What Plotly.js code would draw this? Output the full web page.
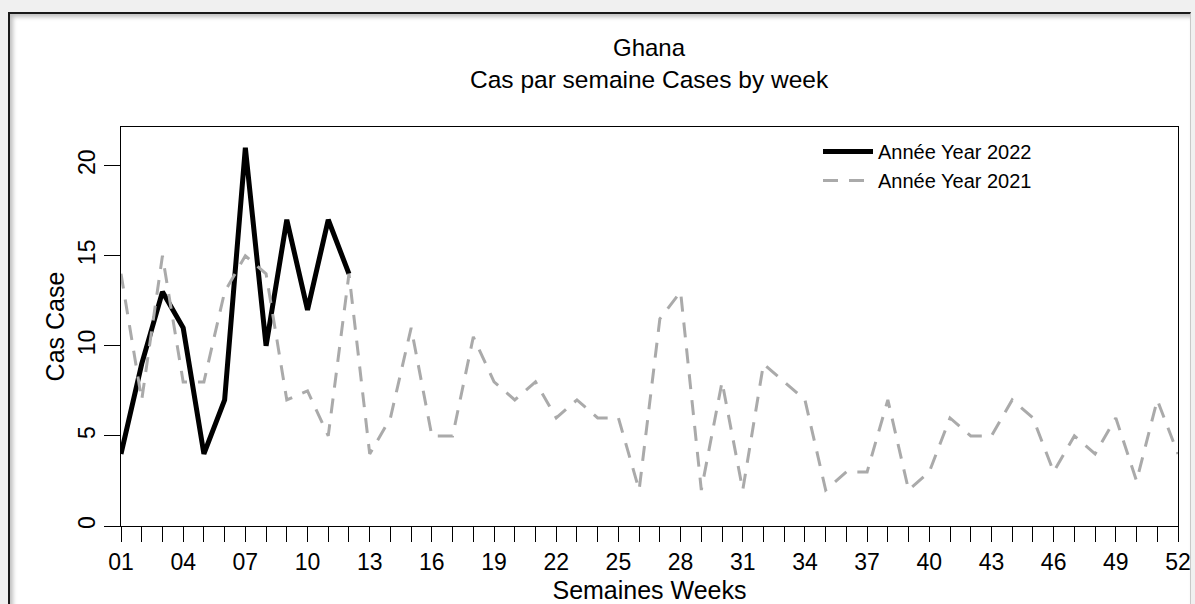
<!DOCTYPE html>
<html>
<head>
<meta charset="utf-8">
<script src="https://cdn.plot.ly/plotly-3.0.1.min.js"></script>
<style>
  html, body { margin:0; padding:0; background:#f0f0f0; width:1195px; height:604px; overflow:hidden; }
  #frame { position:absolute; left:8px; top:12px; width:1180px; height:600px; background:#ffffff;
           border-left:2px solid #1a1a1a; border-top:2px solid #1a1a1a; border-right:1px solid #c8c8c8;
           box-shadow: inset 3px 3px 4px rgba(0,0,0,0.25); }
  #chart { position:absolute; left:0; top:0; width:1195px; height:604px; }
</style>
</head>
<body>
<div id="frame"></div>
<div id="chart"></div>
<script>
// Weeks (x categories)
const weeks = Array.from({length: 52}, (_, i) => i + 1);
// Tick labels (every 3rd week)
const tickLabelWeeks = [1,4,7,10,13,16,19,22,25,28,31,34,37,40,43,46,49,52];

// Cases per week, 2022 (weeks 1-12)
const cases2022 = [4, 9, 13, 11, 4, 7, 21, 10, 17, 12, 17, 14];
// Cases per week, 2021 (weeks 1-52)
const cases2021 = [14, 7, 15, 8, 8, 13, 15, 14, 7, 7.5, 5, 14, 4, 6, 11, 5, 5, 10.5, 8, 7,
                   8, 6, 7, 6, 6, 2, 11.5, 13, 2, 8, 2, 9, 8, 7, 2, 3, 3, 7, 2, 3,
                   6, 5, 5, 7, 6, 3, 5, 4, 6, 2.5, 7, 4];

const titleLine1 = 'Ghana';
const titleLine2 = 'Cas par semaine Cases by week';

const tickText = weeks.map(w => tickLabelWeeks.includes(w) ? String(w).padStart(2, '0') : '');

const FONT = 'Liberation Sans, Arial, sans-serif';

const traces = [
  {
    x: weeks.slice(0, cases2022.length), y: cases2022,
    type: 'scatter', mode: 'lines', name: 'Année Year 2022',
    line: {color: '#000000', width: 5}
  },
  {
    x: weeks, y: cases2021,
    type: 'scatter', mode: 'lines', name: 'Année Year 2021',
    line: {color: '#aaaaaa', width: 3, dash: '15px,11px'}
  }
];

const PLOT_TOP = 127, PLOT_BOTTOM = 526.5, PLOT_H = PLOT_BOTTOM - PLOT_TOP;
const py = (pix) => (PLOT_BOTTOM - pix) / PLOT_H;

const layout = {
  width: 1195, height: 604,
  paper_bgcolor: 'rgba(0,0,0,0)', plot_bgcolor: '#ffffff',
  margin: {l: 121, r: 17, t: PLOT_TOP, b: 604 - PLOT_BOTTOM, pad: 0},
  font: {family: FONT, color: '#000000', size: 23},
  title: {text: ''},
  annotations: [
    {text: titleLine1, xref: 'paper', yref: 'paper', x: 0.5, y: py(47), xanchor: 'center', yanchor: 'middle',
     showarrow: false, font: {family: FONT, size: 24, color: '#000'}},
    {text: titleLine2, xref: 'paper', yref: 'paper', x: 0.5, y: py(79), xanchor: 'center', yanchor: 'middle',
     showarrow: false, font: {family: FONT, size: 24.5, color: '#000'}}
  ],
  xaxis: {
    range: [1, 52], tickmode: 'array', tickvals: weeks, ticktext: tickText,
    ticks: 'outside', ticklen: 15, tickwidth: 1, tickcolor: '#000',
    showline: true, linecolor: '#000', linewidth: 1, mirror: true,
    showgrid: false, zeroline: false, automargin: false,
    tickfont: {family: FONT, size: 23, color: '#000'},
    title: {text: 'Semaines Weeks', font: {family: FONT, size: 25, color: '#000'}, standoff: 22}
  },
  yaxis: {
    range: [0, 22.15], tickmode: 'array', tickvals: [0, 5, 10, 15, 20],
    ticktext: ['0', '5', '10', '15', '20'], tickangle: -90,
    ticks: 'outside', ticklen: 16, tickwidth: 1, tickcolor: '#000',
    showline: true, linecolor: '#000', linewidth: 1, mirror: true,
    showgrid: false, zeroline: false,
    tickfont: {family: FONT, size: 23, color: '#000'},
    title: {text: 'Cas Case', font: {family: FONT, size: 25, color: '#000'}, standoff: 2}
  },
  legend: {
    x: (818 - 121) / 1057, xanchor: 'left', xref: 'paper',
    y: py(132), yanchor: 'top', yref: 'paper',
    bgcolor: 'rgba(0,0,0,0)', borderwidth: 0,
    font: {family: FONT, size: 20, color: '#000'},
    itemwidth: 50, tracegroupgap: 0
  },
  showlegend: true
};

Plotly.newPlot('chart', traces, layout, {displayModeBar: false, staticPlot: true});
</script>
</body>
</html>
